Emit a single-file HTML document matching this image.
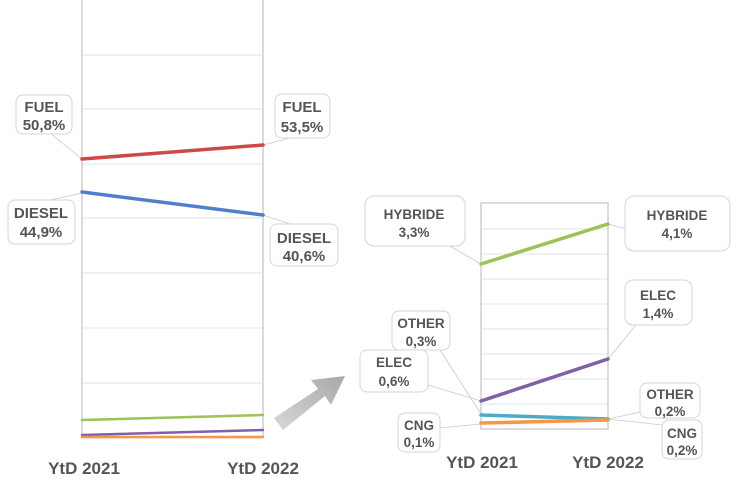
<!DOCTYPE html>
<html><head><meta charset="utf-8"><style>
body{margin:0;background:#fff;}
svg text{font-family:"Liberation Sans",sans-serif;font-weight:bold;fill:#555;}
</style></head><body>
<svg width="739" height="481" viewBox="0 0 739 481" xmlns="http://www.w3.org/2000/svg">
<defs><linearGradient id="ag" x1="0" y1="1" x2="1" y2="0"><stop offset="0" stop-color="#d8d8d8"/><stop offset="1" stop-color="#a8a8a8"/></linearGradient></defs>
<g stroke="#e3e3e3" stroke-width="1">
<line x1="82" y1="55" x2="263" y2="55"/><line x1="82" y1="109" x2="263" y2="109"/><line x1="82" y1="164" x2="263" y2="164"/><line x1="82" y1="218" x2="263" y2="218"/><line x1="82" y1="273" x2="263" y2="273"/><line x1="82" y1="328" x2="263" y2="328"/><line x1="82" y1="383" x2="263" y2="383"/><line x1="82" y1="438" x2="263" y2="438"/>
<line x1="481" y1="229" x2="608" y2="229"/><line x1="481" y1="254" x2="608" y2="254"/><line x1="481" y1="279" x2="608" y2="279"/><line x1="481" y1="304" x2="608" y2="304"/><line x1="481" y1="329" x2="608" y2="329"/><line x1="481" y1="354" x2="608" y2="354"/><line x1="481" y1="379" x2="608" y2="379"/><line x1="481" y1="404" x2="608" y2="404"/><line x1="481" y1="429" x2="608" y2="429"/>
</g>
<g stroke="#cfcfcf" stroke-width="1.5" fill="none">
<line x1="82" y1="0" x2="82" y2="438"/><line x1="263" y1="0" x2="263" y2="438"/>
<rect x="481" y="203" width="127" height="226"/>
</g>
<g stroke="#c8c8c8" stroke-width="0.8" fill="none">
<path d="M50 133 L82 159"/><path d="M290 138 L263 145"/><path d="M50 200 L82 193"/><path d="M290 224 L263 215"/>
<path d="M450 246 L481 264"/><path d="M630 230 L608 224"/><path d="M640 320 L608 359"/><path d="M440 350 L481 414"/><path d="M428 385 L481 401"/><path d="M650 410 L608 419"/><path d="M662 425 L608 419"/><path d="M440 428 L481 424"/>
</g>
<g stroke-width="3.5" fill="none" stroke-linecap="round">
<line x1="82" y1="159" x2="263" y2="145" stroke="#cc4b47"/>
<line x1="82" y1="192" x2="263" y2="215" stroke="#4f7fca"/>
<line x1="82" y1="420" x2="263" y2="415" stroke="#9bc357" stroke-width="2.5"/>
<line x1="82" y1="435" x2="263" y2="430" stroke="#8060a8" stroke-width="2.5"/>
<line x1="82" y1="437" x2="263" y2="437" stroke="#f79646" stroke-width="2.5"/>
<line x1="481" y1="264" x2="608" y2="224" stroke="#9bc357"/>
<line x1="481" y1="401" x2="608" y2="359" stroke="#8060a8"/>
<line x1="481" y1="415" x2="608" y2="419" stroke="#4bacc6"/>
<line x1="481" y1="423" x2="608" y2="420" stroke="#f79646"/>
</g>
<polygon points="274,418 318,389 311,380 345,376 331,405 325,396 283,430" fill="url(#ag)"/>
<g fill="#fff" stroke="#d4d4d4" stroke-width="1">
<rect x="16" y="95" width="56" height="39" rx="7"/><rect x="275" y="94" width="55" height="44" rx="7"/>
<rect x="8" y="200" width="67" height="44" rx="7"/><rect x="270" y="224" width="68" height="42" rx="7"/>
<rect x="365" y="196" width="100" height="50" rx="9"/><rect x="625" y="196" width="105" height="55" rx="9"/>
<rect x="625" y="280" width="67" height="45" rx="8"/><rect x="392" y="311" width="58" height="39" rx="7"/>
<rect x="360" y="350" width="68" height="42" rx="7"/><rect x="640" y="383" width="60" height="35" rx="7"/>
<rect x="398" y="413" width="42" height="39" rx="7"/><rect x="662" y="420" width="40" height="39" rx="7"/>
</g>
<g font-size="15" text-anchor="middle">
<text x="44" y="112">FUEL</text><text x="44" y="130">50,8%</text>
<text x="302" y="112">FUEL</text><text x="302" y="132">53,5%</text>
<text x="41" y="218">DIESEL</text><text x="41" y="237">44,9%</text>
<text x="304" y="243">DIESEL</text><text x="304" y="261">40,6%</text>
</g>
<g font-size="13.5" text-anchor="middle">
<text x="414" y="219">HYBRIDE</text><text x="414" y="237">3,3%</text>
<text x="677" y="220">HYBRIDE</text><text x="677" y="238">4,1%</text>
<text x="658" y="300">ELEC</text><text x="658" y="318">1,4%</text>
<text x="421" y="328">OTHER</text><text x="421" y="346">0,3%</text>
<text x="394" y="367">ELEC</text><text x="394" y="386">0,6%</text>
<text x="670" y="399">OTHER</text><text x="670" y="416">0,2%</text>
<text x="419" y="430">CNG</text><text x="419" y="447">0,1%</text>
<text x="682" y="438">CNG</text><text x="682" y="455">0,2%</text>
</g>
<g font-size="17" text-anchor="middle">
<text x="84" y="474">YtD 2021</text><text x="263" y="474">YtD 2022</text>
<text x="482" y="468">YtD 2021</text><text x="608" y="468">YtD 2022</text>
</g>
</svg>
</body></html>
